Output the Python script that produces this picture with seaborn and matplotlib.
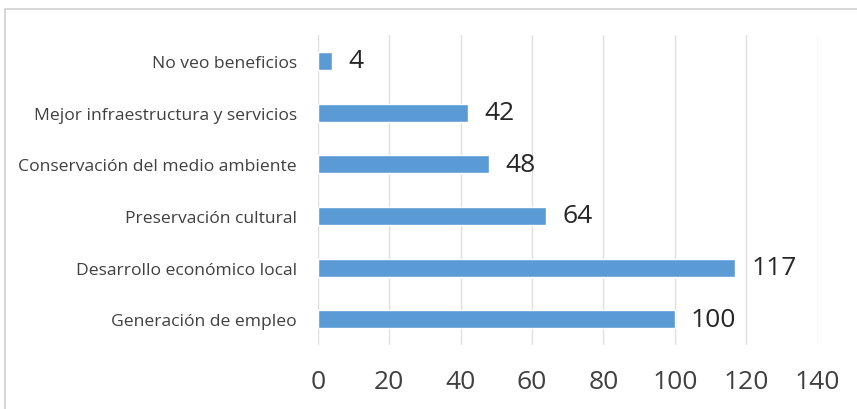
import matplotlib
matplotlib.use("Agg")
import matplotlib.pyplot as plt
import seaborn as sns
import pandas as pd
from matplotlib.patches import Rectangle

categories = [
    "No veo beneficios",
    "Mejor infraestructura y servicios",
    "Conservación del medio ambiente",
    "Preservación cultural",
    "Desarrollo económico local",
    "Generación de empleo",
]
values = [4, 42, 48, 64, 117, 100]
x_ticks = [0, 20, 40, 60, 80, 100, 120, 140]

df = pd.DataFrame({"categoria": categories, "valor": values})

sns.set_theme(style="white")
plt.rcParams["font.family"] = ["Open Sans", "DejaVu Sans"]

fig = plt.figure(figsize=(8.57, 4.10), dpi=100)
ax = fig.add_axes([0.371, 0.156, 0.583, 0.756])

sns.barplot(data=df, x="valor", y="categoria", order=categories,
            color="#5B9BD5", saturation=1, width=0.35, ax=ax)

ax.set_xlim(0, 140)
ax.set_xticks(x_ticks)
ax.set_xticklabels([str(t) for t in x_ticks], fontsize=19, color="#404040")
ax.tick_params(axis="x", length=0, pad=17)
ax.tick_params(axis="y", length=0, pad=15, labelsize=12.6, labelcolor="#404040")
ax.set_xlabel("")
ax.set_ylabel("")
ax.grid(axis="x", color="#E0E0E0", linewidth=1)
ax.set_axisbelow(True)
for s in ax.spines.values():
    s.set_visible(False)

for bar, v in zip(ax.patches, values):
    ax.text(bar.get_width() + 4.5, bar.get_y() + bar.get_height() / 2, str(v),
            va="center", ha="left", fontsize=19, color="#262626")

# light frame around the chart area
fig.add_artist(Rectangle((5 / 857, -0.05), 1.2, 1 - 10 / 410 + 0.05,
                         transform=fig.transFigure, fill=False,
                         edgecolor="#D0D0D0", linewidth=1.2))

fig.savefig("out.png", dpi=100)
